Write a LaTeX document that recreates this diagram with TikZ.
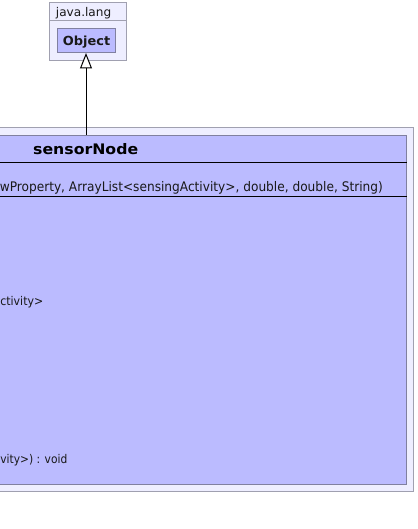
\documentclass[tikz,border=0pt]{standalone}
\usepackage{fontspec}
\usepackage{graphicx}
\setmainfont{DejaVu Sans}
\usetikzlibrary{arrows.meta}
\definecolor{pkgfill}{RGB}{238,238,255}
\definecolor{pkgdraw}{RGB}{160,160,176}
\definecolor{clsfill}{RGB}{187,187,255}
\definecolor{clsdraw}{RGB}{128,128,160}
\newcommand\fitw[2]{\resizebox{#1}{\height}{#2}}
\tikzset{
  pkgbox/.style={draw=pkgdraw, fill=pkgfill, line width=1pt, inner sep=0pt},
  clsbox/.style={draw=clsdraw, fill=clsfill, line width=1pt, inner sep=0pt},
  sepline/.style={draw=black, line width=1pt},
  smalltxt/.style={inner sep=0pt, font=\fontsize{12}{14}\selectfont, text=black!90},
  txt/.style={inner sep=0pt, font=\fontsize{13.2}{15}\selectfont, text=black!90},
  boldtxt/.style={inner sep=0pt, font=\fontsize{12.5}{14}\selectfont\bfseries, text=black!90},
  titletxt/.style={inner sep=0pt, font=\fontsize{14.5}{17}\selectfont\bfseries, text=black},
  inherit/.style={line width=1pt, -{Triangle[open, fill=white, length=15.5pt, width=12pt, line width=1pt]}}
}
\begin{document}
\begin{tikzpicture}[x=1pt, y=-1pt]
\useasboundingbox (0,0) rectangle (417,529);
\begin{scope}
\clip (0,0) rectangle (417,529);
% java.lang package
\node[pkgbox, minimum width=77pt, minimum height=58pt] (jl) at (88,31.5) {};
\draw[draw=pkgdraw, line width=1pt] (jl.west |- 0,20.5) -- (jl.east |- 0,20.5);
\node[smalltxt, anchor=base west] (jltxt) at (55.7,16.5) {\fitw{55.3pt}{java.lang}};
\node[clsbox, minimum width=58pt, minimum height=24pt] (obj) at (86.5,40.5) {};
\node[boldtxt, anchor=base west] (objtxt) at (62.7,45.5) {\fitw{47.3pt}{Object}};
% outer package of sensorNode
\node[pkgbox, minimum width=655pt, minimum height=364pt] (pk) at (86,309.5) {};
\node[clsbox, minimum width=641pt, minimum height=349pt] (sn) at (86,310) {};
\draw[sepline] (sn.west |- 0,162.5) -- (sn.east |- 0,162.5);
\draw[sepline] (sn.west |- 0,196.5) -- (sn.east |- 0,196.5);
\node[titletxt, anchor=base west] (title) at (33,154.5) {\fitw{105pt}{sensorNode}};
\node[txt, anchor=base east] (ctor) at (383,191) {\fitw{383pt}{wProperty, ArrayList<sensingActivity>, double, double, String)}};
\node[smalltxt, anchor=base east] (attr) at (43.5,305) {\fitw{43pt}{ctivity>}};
\node[smalltxt, anchor=base east] (meth) at (67.5,463.5) {\fitw{67pt}{vity>) : void}};
% inheritance
\draw[inherit] (sn.north -| 86,0) -- (obj.south -| 86,0);
\end{scope}
\end{tikzpicture}
\end{document}
